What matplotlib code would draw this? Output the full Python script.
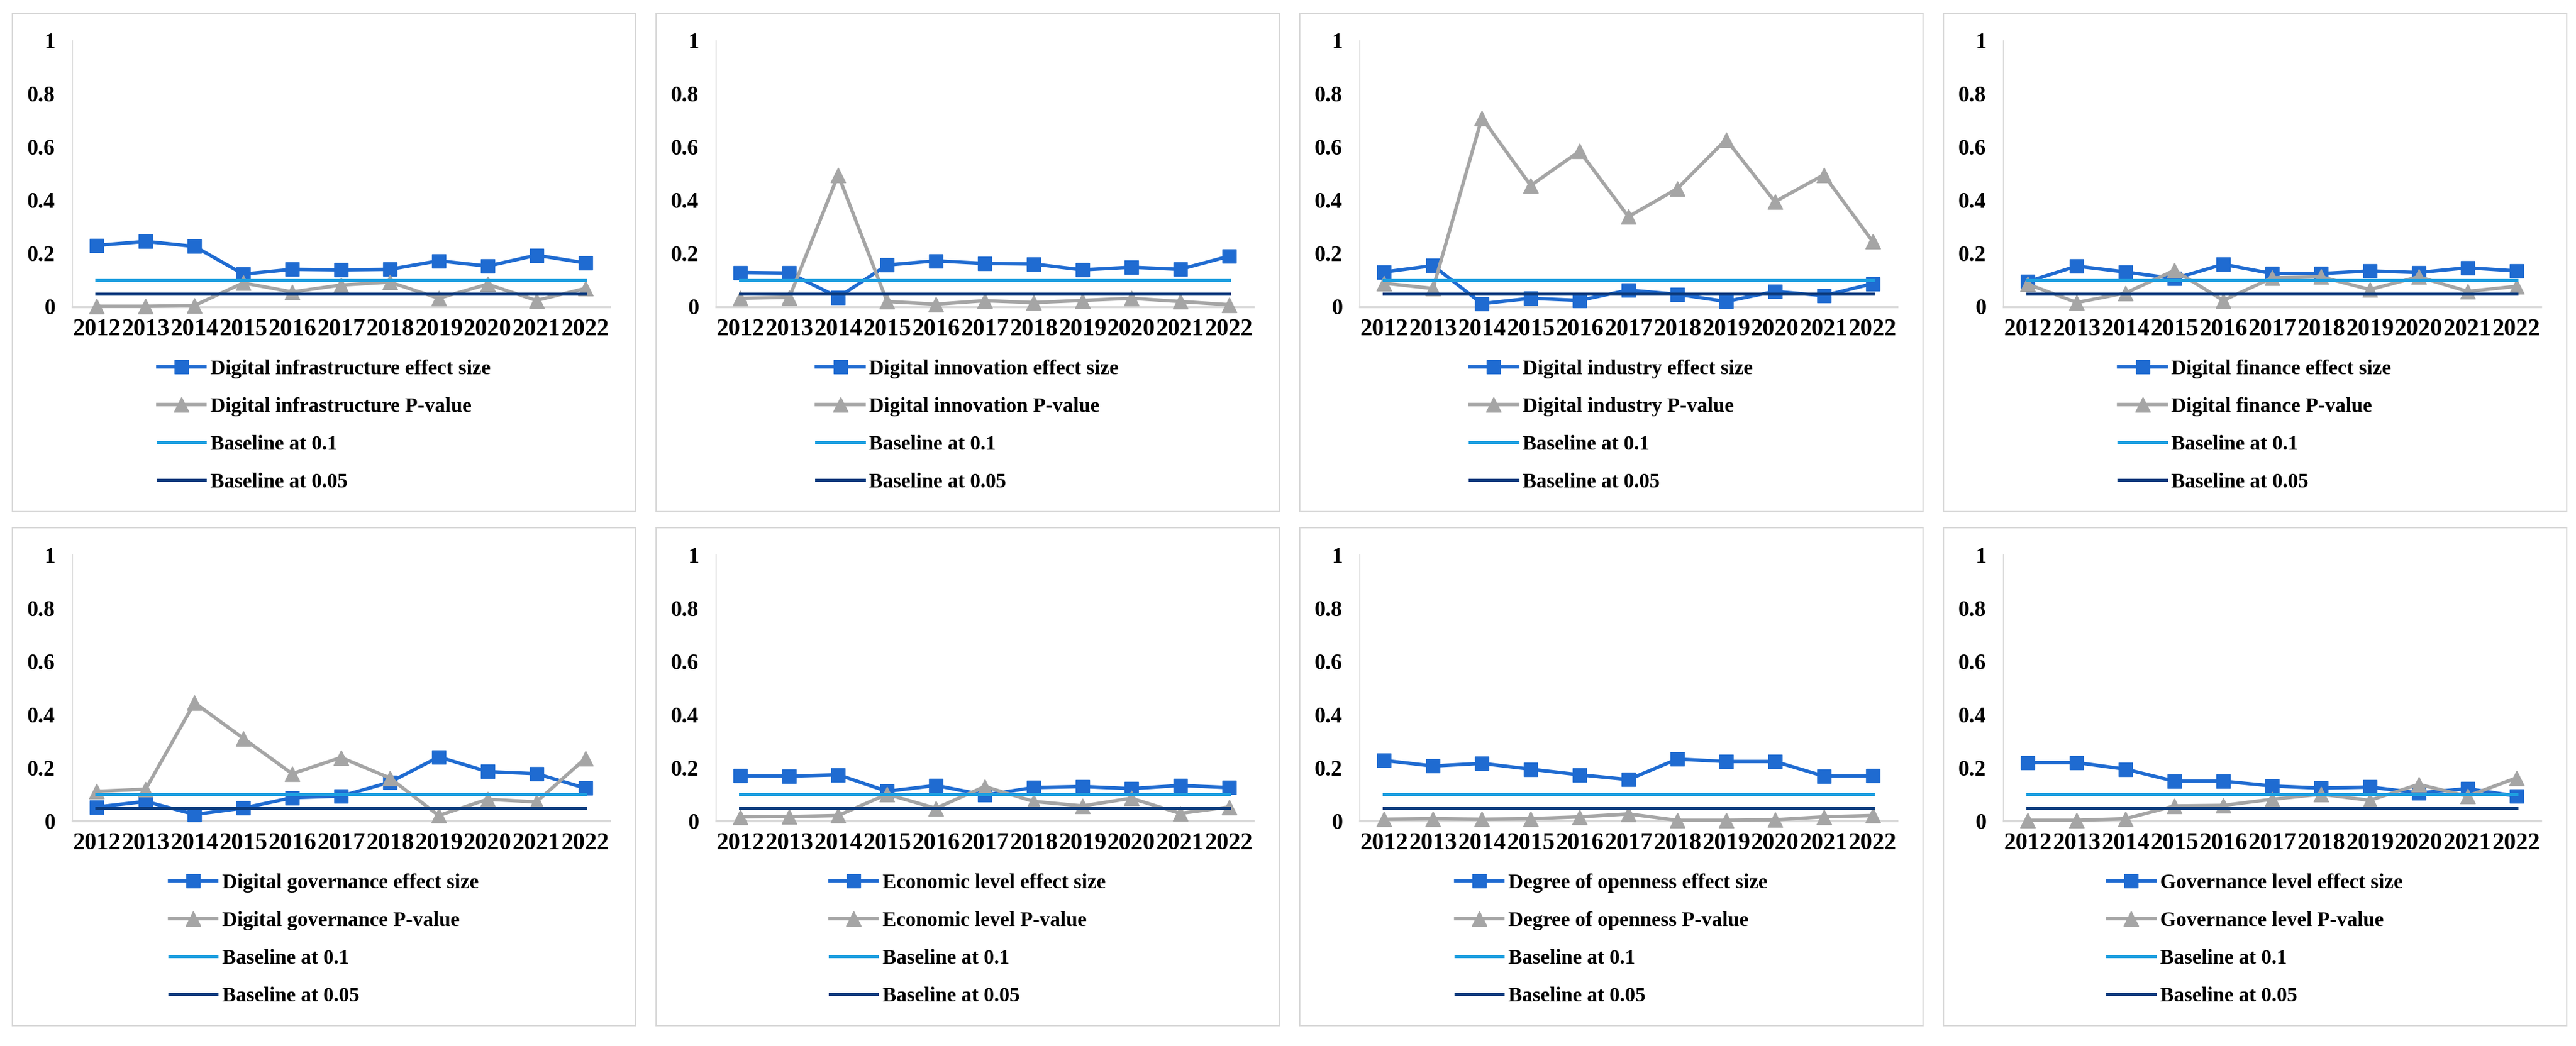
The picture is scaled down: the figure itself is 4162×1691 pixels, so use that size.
import matplotlib
matplotlib.use('Agg')
import matplotlib.pyplot as plt
from matplotlib.patches import Rectangle

years = ['2012', '2013', '2014', '2015', '2016', '2017', '2018', '2019', '2020', '2021', '2022']

names = ['Digital infrastructure', 'Digital innovation', 'Digital industry', 'Digital finance',
         'Digital governance', 'Economic level', 'Degree of openness', 'Governance level']

infra_eff = [0.231, 0.246, 0.227, 0.123, 0.141, 0.139, 0.141, 0.173, 0.153, 0.194, 0.165]
infra_p = [0.002, 0.002, 0.005, 0.090, 0.056, 0.082, 0.093, 0.032, 0.085, 0.024, 0.069]
innov_eff = [0.129, 0.127, 0.036, 0.157, 0.173, 0.163, 0.161, 0.139, 0.149, 0.141, 0.190]
innov_p = [0.032, 0.036, 0.496, 0.020, 0.010, 0.023, 0.016, 0.024, 0.032, 0.020, 0.008]
industry_eff = [0.131, 0.155, 0.012, 0.032, 0.024, 0.063, 0.047, 0.020, 0.058, 0.042, 0.087]
industry_p = [0.089, 0.069, 0.710, 0.456, 0.585, 0.339, 0.444, 0.629, 0.395, 0.496, 0.246]
finance_eff = [0.095, 0.153, 0.131, 0.106, 0.160, 0.125, 0.125, 0.135, 0.129, 0.147, 0.135]
finance_p = [0.085, 0.016, 0.052, 0.137, 0.024, 0.109, 0.113, 0.065, 0.113, 0.058, 0.077]
gov_eff = [0.052, 0.073, 0.024, 0.048, 0.087, 0.093, 0.145, 0.240, 0.185, 0.177, 0.123]
gov_p = [0.111, 0.119, 0.444, 0.310, 0.177, 0.238, 0.161, 0.020, 0.081, 0.071, 0.234]
econ_eff = [0.169, 0.168, 0.173, 0.111, 0.133, 0.097, 0.125, 0.129, 0.121, 0.133, 0.125]
econ_p = [0.015, 0.016, 0.020, 0.100, 0.047, 0.129, 0.073, 0.056, 0.085, 0.028, 0.052]
open_eff = [0.227, 0.206, 0.216, 0.194, 0.173, 0.155, 0.232, 0.223, 0.223, 0.168, 0.169]
open_p = [0.006, 0.008, 0.006, 0.008, 0.015, 0.026, 0.002, 0.002, 0.004, 0.015, 0.020]
govlvl_eff = [0.219, 0.219, 0.194, 0.149, 0.149, 0.131, 0.123, 0.127, 0.105, 0.121, 0.093]
govlvl_p = [0.002, 0.002, 0.008, 0.056, 0.058, 0.081, 0.100, 0.077, 0.137, 0.093, 0.161]

effects = [infra_eff, innov_eff, industry_eff, finance_eff, gov_eff, econ_eff, open_eff, govlvl_eff]
pvalues = [infra_p, innov_p, industry_p, finance_p, gov_p, econ_p, open_p, govlvl_p]

baseline_1 = 0.1
baseline_05 = 0.05

yticks = [0, 0.2, 0.4, 0.6, 0.8, 1]
ytick_labels = ['0', '0.2', '0.4', '0.6', '0.8', '1']

C_EFF = '#1F6BD1'
C_P = '#A5A5A5'
C_B1 = '#1E9FE0'
C_B05 = '#0B3B7E'

plt.rcParams['font.family'] = ['Liberation Serif', 'DejaVu Serif']
plt.rcParams['font.weight'] = 'bold'

W, H = 4162, 1691
fig = plt.figure(figsize=(W / 100, H / 100), dpi=100)

col_x = [20, 1060, 2100, 3140]
pw = 1007
row_top = [22, 853]
ph = 805

x = list(range(len(years)))

for i, (name, eff, pv) in enumerate(zip(names, effects, pvalues)):
    r, c = divmod(i, 4)
    x0 = col_x[c]
    y0 = row_top[r]
    fig.add_artist(Rectangle((x0 / W, 1 - (y0 + ph) / H), pw / W, ph / H,
                             transform=fig.transFigure, fill=False,
                             ec='#D9D9D9', lw=1.6))
    ax = fig.add_axes([(x0 + 97) / W, 1 - (y0 + 474) / H, 868 / W, 430 / H])
    ax.set_facecolor('none')
    l1, = ax.plot(x, eff, color=C_EFF, lw=4.0, marker='s', ms=16,
                  label=f'{name} effect size', zorder=3, clip_on=False)
    l2, = ax.plot(x, pv, color=C_P, lw=4.0, marker='^', ms=17,
                  label=f'{name} P-value', zorder=4, clip_on=False)
    l3, = ax.plot(x, [baseline_1] * len(x), color=C_B1, lw=3.6,
                  label='Baseline at 0.1', zorder=5)
    l4, = ax.plot(x, [baseline_05] * len(x), color=C_B05, lw=3.6,
                  label='Baseline at 0.05', zorder=6)
    ax.set_xlim(-0.5, len(years) - 0.5)
    ax.set_ylim(0, 1)
    ax.set_xticks(x)
    ax.set_xticklabels(years, fontsize=28, fontweight='bold')
    ax.set_yticks(yticks)
    ax.set_yticklabels(ytick_labels, fontsize=26, fontweight='bold')
    ax.tick_params(length=0)
    ax.tick_params(axis='y', pad=20)
    ax.tick_params(axis='x', pad=13)
    for s in ['top', 'right']:
        ax.spines[s].set_visible(False)
    ax.spines['left'].set_color('#D9D9D9')
    ax.spines['left'].set_linewidth(1.2)
    ax.spines['bottom'].set_color('#D9D9D9')
    ax.spines['bottom'].set_linewidth(2.5)
    ax.legend(handles=[l1, l2, l3, l4], loc='center',
              bbox_to_anchor=((x0 + pw / 2) / W, 1 - (y0 + 666) / H),
              bbox_transform=fig.transFigure, frameon=False,
              prop={'family': ['Liberation Serif'], 'weight': 'bold', 'size': 24},
              handlelength=2.3, handletextpad=0.25, labelspacing=0.9,
              borderaxespad=0)

fig.savefig('out.png', dpi=100, facecolor='white')
